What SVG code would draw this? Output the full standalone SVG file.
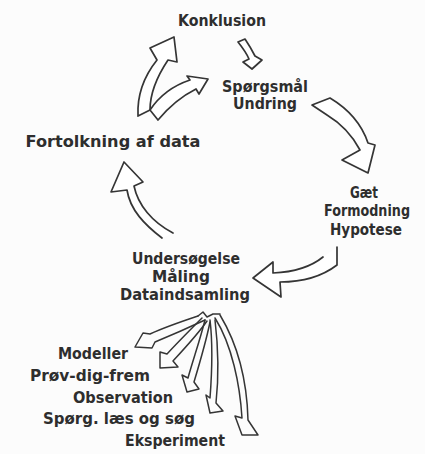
<svg xmlns="http://www.w3.org/2000/svg" width="425" height="454" viewBox="0 0 425 454">
<style>
text{font-family:"DejaVu Sans","Liberation Sans",sans-serif;font-weight:bold;font-size:15px;fill:#2e2e2e;text-anchor:middle}
.a{fill:#fff;stroke:#353535;stroke-width:1.7;stroke-linejoin:round;stroke-linecap:round}
.f{fill:none;stroke:#353535;stroke-width:1.5;stroke-linejoin:round;stroke-linecap:round}
</style>
<rect width="425" height="454" fill="#fcfcfc"/>
<g id="konklusion"><text x="222" y="26" textLength="88" lengthAdjust="spacingAndGlyphs">Konklusion</text></g>
<g id="spoergsmaal"><text x="265" y="92" textLength="86" lengthAdjust="spacingAndGlyphs">Spørgsmål</text><text x="265" y="109" textLength="64" lengthAdjust="spacingAndGlyphs">Undring</text></g>
<g id="fortolkning"><text x="113" y="147" font-size="14" textLength="175" lengthAdjust="spacingAndGlyphs">Fortolkning af data</text></g>
<g id="gaet"><text x="364" y="198" textLength="28" lengthAdjust="spacingAndGlyphs">Gæt</text><text x="367" y="216" textLength="86" lengthAdjust="spacingAndGlyphs">Formodning</text><text x="366" y="235" textLength="72" lengthAdjust="spacingAndGlyphs">Hypotese</text></g>
<g id="undersoegelse"><text x="186" y="264" textLength="108" lengthAdjust="spacingAndGlyphs">Undersøgelse</text><text x="181" y="282" textLength="58" lengthAdjust="spacingAndGlyphs">Måling</text><text x="185" y="300" textLength="130" lengthAdjust="spacingAndGlyphs">Dataindsamling</text></g>
<g id="metoder"><text x="93" y="359" textLength="70" lengthAdjust="spacingAndGlyphs">Modeller</text><text x="90" y="381" textLength="120" lengthAdjust="spacingAndGlyphs">Prøv-dig-frem</text><text x="123" y="403" textLength="100" lengthAdjust="spacingAndGlyphs">Observation</text><text x="119" y="424" textLength="152" lengthAdjust="spacingAndGlyphs">Spørg. læs og søg</text><text x="175" y="446" textLength="100" lengthAdjust="spacingAndGlyphs">Eksperiment</text></g>
<g id="connectors">
<path class="a" d="M138,116 C137,95 145,75 157,60 L150,48 L174,37 L177,62 L168,60 C158,75 150,92 150,110 Z"/>
<path class="a" d="M150,110 C160,95 175,85 190,80 L187,76 L208,79 L199,94 L196,89 C180,97 168,108 158,120 Z"/>
<path class="a" d="M238,42 L245,39 C249,45 252,50 255,56 L262,60 L252,69 L243,62 L249,59 C246,52 242,47 238,42 Z"/>
<path class="a" d="M327,115 L312,105 L330,98 C350,110 362,125 368,143 L375,145 L368,173 L342,160 L360,150 C352,135 342,124 327,115"/>
<path class="a" d="M337,247 L337,265 C320,278 300,282 280,282 L281,297 L253,278 L273,262 L273,273 C295,272 312,266 323,257"/>
<path class="a" d="M162,238 C145,225 130,210 127,190 L111,192 L124,162 L143,182 L134,186 C138,205 152,222 173,233"/>
<path class="f" d="M198,316 C180,322 163,328 150,334 L143,333 L135,347 L152,348 L155,342 C172,335 190,327 205,320"/>
<path class="f" d="M202,318 C190,330 178,342 167,354 L160,352 L160,368 L178,367 L173,361 C185,348 198,334 207,321"/>
<path class="f" d="M205,320 C200,340 193,360 188,378 L182,375 L187,392 L199,389 L194,382 C200,362 206,342 210,322"/>
<path class="f" d="M210,320 C213,345 212,372 210,398 L206,395 L210,413 L223,411 L216,403 C219,375 218,345 215,320"/>
<path class="f" d="M215,318 C232,345 240,385 242,418 L235,416 L242,435 L258,435 L248,420 C247,380 238,345 220,315"/>
<path class="f" d="M198,316 L203,312 L207,317 L213,314 L220,314"/>
</g>
</svg>
